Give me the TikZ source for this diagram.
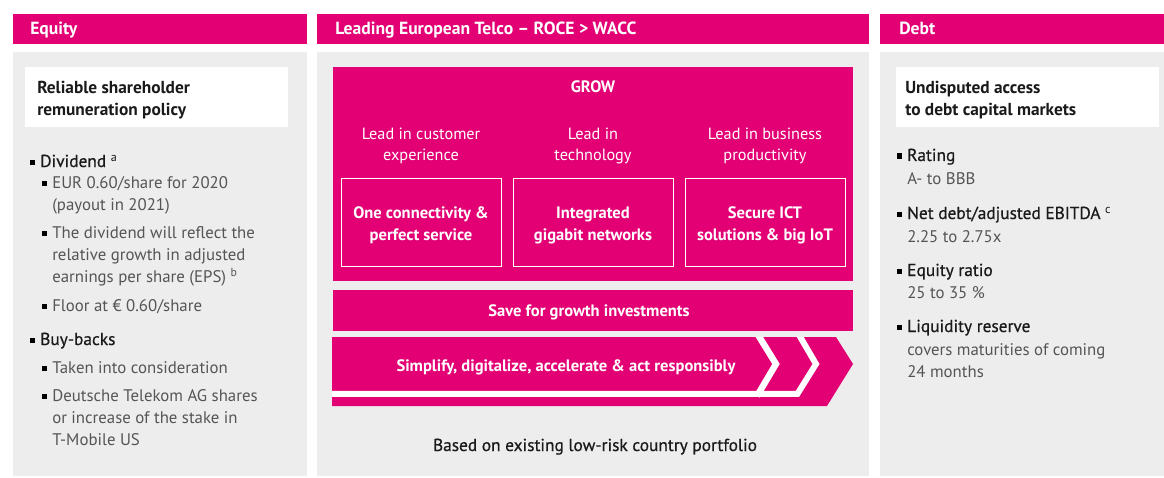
\documentclass[tikz,border=0pt]{standalone}
\usepackage{fontspec}
\setmainfont{PT Sans}
\newfontfamily\medfont[FakeBold=0.6]{PT Sans}
\usetikzlibrary{positioning}

\definecolor{tmagenta}{HTML}{E20074}
\definecolor{panelgray}{HTML}{EDEDED}
\definecolor{subgray}{HTML}{555555}
\definecolor{maintext}{HTML}{1A1A1A}
\newcommand{\bsq}{\llap{\textcolor{black}{\rule[0.25ex]{4pt}{4pt}}\hspace{3.6pt}}}

\begin{document}
\begin{tikzpicture}[x=0.75pt, y=-0.75pt,
  hdr/.style={anchor=base west, inner sep=0pt, text=white, font=\fontsize{13.2}{14}\selectfont\bfseries},
  ttl/.style={anchor=base west, align=left, inner sep=0pt, text=maintext, font=\fontsize{13}{16.5}\selectfont\bfseries},
  mainitem/.style={anchor=base west, align=left, inner sep=0pt, text=maintext, font=\fontsize{13}{16.5}\selectfont\medfont},
  subitem/.style={anchor=base west, align=left, inner sep=0pt, text=subgray, font=\fontsize{12.6}{16.5}\selectfont},
  lead/.style={anchor=base, align=center, inner sep=0pt, text=white, font=\fontsize{12.2}{16.5}\selectfont},
  pillar/.style={anchor=base, align=center, inner sep=0pt, text=white, font=\fontsize{12.4}{16.5}\selectfont\bfseries}]
\useasboundingbox (0,0) rectangle (1164,478);

% panels
\fill[tmagenta] (13,14) rectangle (307,44);
\fill[tmagenta] (317,14) rectangle (869,44);
\fill[tmagenta] (880,14) rectangle (1164,44);
\fill[panelgray] (13,52) rectangle (307,476);
\fill[panelgray] (317,52) rectangle (869,476);
\fill[panelgray] (880,52) rectangle (1164,476);

\node[hdr] (equity) at (30,35) {Equity};
\node[hdr] (telco) at (335,35) {Leading European Telco -- ROCE > WACC};
\node[hdr] (debt) at (899,35) {Debt};

% equity (multi-line nodes: base = last line)
\fill[white] (25,67) rectangle (288,127);
\node[ttl] (policy) at (37,115) {Reliable shareholder\\remuneration policy};
\node[mainitem] (dividend) at (40,167) {\bsq Dividend {\normalfont\textsuperscript{a}}};
\node[subitem] (eur) at (52,210) {\bsq EUR 0.60/share for 2020\\(payout in 2021)};
\node[subitem] (reflect) at (52,282) {\bsq The dividend will reflect the\\relative growth in adjusted\\earnings per share (EPS) \textsuperscript{b}};
\node[subitem] (floor) at (52,311) {\bsq Floor at € 0.60/share};
\node[mainitem] (buyback) at (40,345) {\bsq Buy-backs};
\node[subitem] (taken) at (52,373) {\bsq Taken into consideration};
\node[subitem] (shares) at (52,445) {\bsq Deutsche Telekom AG shares\\or increase of the stake in\\T-Mobile US};

% grow
\fill[tmagenta] (333,67) rectangle (853,281);
\node[pillar] (grow) at (593,93) {GROW};
\node[lead] (leadcust) at (421,161) {Lead in customer\\experience};
\node[lead] (leadtech) at (593,161) {Lead in\\technology};
\node[lead] (leadbiz) at (765,161) {Lead in business\\productivity};
\draw[white, line width=0.6pt] (341,178) rectangle (501,266);
\draw[white, line width=0.6pt] (513,178) rectangle (673,266);
\draw[white, line width=0.6pt] (685,178) rectangle (845,266);
\node[pillar] (connect) at (421,240) {One connectivity \&\\perfect service};
\node[pillar] (gigabit) at (593,240) {Integrated\\gigabit networks};
\node[pillar] (secure) at (765,240) {Secure ICT\\solutions \& big IoT};

\fill[tmagenta] (333,290) rectangle (853,331);
\node[pillar] (save) at (589,316) {Save for growth investments};

% chevron
\fill[tmagenta] (332,337) -- (836,337) -- (853,364) -- (827,406) -- (332,406) -- cycle;
\begin{scope}
\clip (332,337) -- (836,337) -- (853,364) -- (827,406) -- (332,406) -- cycle;
\draw[white, line width=4.5pt, line join=miter] (330,393.8) -- (797.5,393.8) -- (816,364) -- (798.5,334);
\draw[white, line width=4.8pt, line join=miter] (757,396) -- (776,364) -- (757.5,334);
\end{scope}
\node[pillar] (simplify) at (566,371) {Simplify, digitalize, accelerate \& act responsibly};

\node[mainitem, anchor=base] (based) at (595,451) {Based on existing low-risk country portfolio};

% debt
\fill[white] (896,67) rectangle (1159,127);
\node[ttl] (access) at (905,115) {Undisputed access\\to debt capital markets};
\node[mainitem] (rating) at (907,161) {\bsq Rating};
\node[subitem] (ratingval) at (907,184) {A- to BBB};
\node[mainitem] (netdebt) at (907,219) {\bsq Net debt/adjusted EBITDA {\normalfont\textsuperscript{c}}};
\node[subitem] (netdebtval) at (907,242) {2.25 to 2.75x};
\node[mainitem] (eqratio) at (907,276) {\bsq Equity ratio};
\node[subitem] (eqratioval) at (907,298) {25 to 35 \%};
\node[mainitem] (liquid) at (907,332) {\bsq Liquidity reserve};
\node[subitem] (liquidval) at (907,377) {covers maturities of coming\\24 months};
\end{tikzpicture}
\end{document}
